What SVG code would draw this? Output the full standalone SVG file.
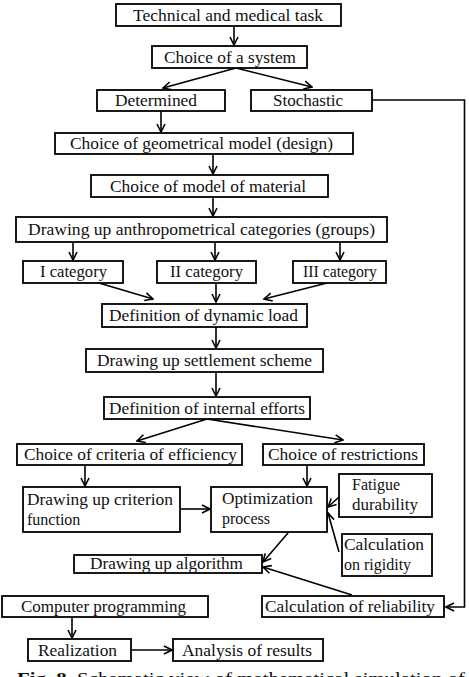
<svg xmlns="http://www.w3.org/2000/svg" width="469" height="677" viewBox="0 0 469 677">
<defs>
<marker id="ah" viewBox="0 0 10 10" refX="9" refY="5" markerWidth="10" markerHeight="10" markerUnits="userSpaceOnUse" orient="auto">
<path d="M1,1 L9,5 L1,9" fill="none" stroke="#000" stroke-width="1.6"/>
</marker>
<style>
rect{fill:#fff;stroke:#000;stroke-width:1.8}
text{font-family:"Liberation Serif","Times New Roman",serif;font-size:16px;fill:#111}
.c{text-anchor:middle}
#edges line,#edges polyline{fill:none;stroke:#000;stroke-width:1.6;marker-end:url(#ah)}
</style>
</defs>
<rect x="0" y="0" width="469" height="677" style="fill:#fff;stroke:none"/>
<g id="edges">
<line x1="234" y1="26" x2="234" y2="45"/>
<line x1="236" y1="68" x2="163" y2="88"/>
<line x1="236" y1="68" x2="312" y2="87"/>
<line x1="161" y1="111" x2="161" y2="132"/>
<line x1="213" y1="154" x2="213" y2="174"/>
<line x1="213" y1="197" x2="213" y2="216"/>
<line x1="73" y1="242" x2="73" y2="260"/>
<line x1="215" y1="242" x2="215" y2="260"/>
<line x1="340" y1="242" x2="340" y2="260"/>
<line x1="99" y1="283" x2="153" y2="299"/>
<line x1="216" y1="283" x2="216" y2="302"/>
<line x1="327" y1="283" x2="264" y2="299"/>
<line x1="216" y1="327" x2="216" y2="348"/>
<line x1="216" y1="372" x2="216" y2="396"/>
<line x1="207" y1="419" x2="137" y2="441"/>
<line x1="207" y1="419" x2="343" y2="440"/>
<line x1="85" y1="465" x2="85" y2="486"/>
<line x1="307" y1="465" x2="307" y2="486"/>
<line x1="180" y1="509" x2="210" y2="509"/>
<line x1="339" y1="497" x2="328" y2="507"/>
<line x1="339" y1="552" x2="328" y2="513"/>
<line x1="288" y1="533" x2="263" y2="562"/>
<line x1="352" y1="595" x2="263" y2="567"/>
<polyline points="372,100 464.5,100 464.5,607 446,607"/>
<line x1="72" y1="617" x2="72" y2="638"/>
<line x1="131" y1="650" x2="172" y2="650"/>
</g>
<g id="n1"><rect x="116" y="4" width="225" height="22"/><text class="c" x="228" y="21" textLength="190" lengthAdjust="spacingAndGlyphs">Technical and medical task</text></g>
<g id="n2"><rect x="152" y="46" width="155" height="22"/><text class="c" x="230" y="63" textLength="132" lengthAdjust="spacingAndGlyphs">Choice of a system</text></g>
<g id="n3"><rect x="97" y="90" width="128" height="21"/><text class="c" x="156" y="106" textLength="82" lengthAdjust="spacingAndGlyphs">Determined</text></g>
<g id="n4"><rect x="251" y="90" width="121" height="21"/><text class="c" x="308" y="106" textLength="70" lengthAdjust="spacingAndGlyphs">Stochastic</text></g>
<g id="n5"><rect x="55" y="133" width="298" height="21"/><text class="c" x="201.5" y="149" textLength="263" lengthAdjust="spacingAndGlyphs">Choice of geometrical model (design)</text></g>
<g id="n6"><rect x="91" y="175" width="237" height="22"/><text class="c" x="208" y="192" textLength="196" lengthAdjust="spacingAndGlyphs">Choice of model of material</text></g>
<g id="n7"><rect x="16" y="217" width="371" height="25"/><text class="c" x="201.5" y="235" textLength="347" lengthAdjust="spacingAndGlyphs">Drawing up anthropometrical categories (groups)</text></g>
<g id="n8"><rect x="23" y="261" width="100" height="22"/><text class="c" x="73.5" y="277" textLength="67" lengthAdjust="spacingAndGlyphs">I category</text></g>
<g id="n9"><rect x="157" y="261" width="99" height="22"/><text class="c" x="206.5" y="277" textLength="73" lengthAdjust="spacingAndGlyphs">II category</text></g>
<g id="n10"><rect x="293" y="261" width="93" height="22"/><text class="c" x="340" y="277" textLength="74" lengthAdjust="spacingAndGlyphs">III category</text></g>
<g id="n11"><rect x="102" y="304" width="205" height="23"/><text class="c" x="203.5" y="321" textLength="189" lengthAdjust="spacingAndGlyphs">Definition of dynamic load</text></g>
<g id="n12"><rect x="86" y="349" width="237" height="23"/><text class="c" x="204.5" y="366" textLength="215" lengthAdjust="spacingAndGlyphs">Drawing up settlement scheme</text></g>
<g id="n13"><rect x="104" y="397" width="206" height="22"/><text class="c" x="207" y="414" textLength="196" lengthAdjust="spacingAndGlyphs">Definition of internal efforts</text></g>
<g id="n14"><rect x="17" y="444" width="225" height="21"/><text class="c" x="130.5" y="460" textLength="213" lengthAdjust="spacingAndGlyphs">Choice of criteria of efficiency</text></g>
<g id="n15"><rect x="263" y="444" width="161" height="21"/><text class="c" x="343" y="460" textLength="150" lengthAdjust="spacingAndGlyphs">Choice of restrictions</text></g>
<g id="n16"><rect x="23" y="487" width="157" height="45"/><text x="27" y="505" textLength="146" lengthAdjust="spacingAndGlyphs">Drawing up criterion</text><text x="27" y="525">function</text></g>
<g id="n17"><rect x="211" y="487" width="116" height="45"/><text x="222" y="504" textLength="91" lengthAdjust="spacingAndGlyphs">Optimization</text><text x="222" y="524">process</text></g>
<g id="n18"><rect x="339" y="474" width="93" height="43"/><text x="352" y="490">Fatigue</text><text x="352" y="510" textLength="66" lengthAdjust="spacingAndGlyphs">durability</text></g>
<g id="n19"><rect x="342" y="534" width="90" height="42"/><text x="344" y="550" textLength="80" lengthAdjust="spacingAndGlyphs">Calculation</text><text x="344" y="570">on rigidity</text></g>
<g id="n20"><rect x="74" y="555" width="188" height="18"/><text class="c" x="166.5" y="569" textLength="153" lengthAdjust="spacingAndGlyphs">Drawing up algorithm</text></g>
<g id="n21"><rect x="2" y="596" width="206" height="21"/><text class="c" x="103.5" y="612" textLength="165" lengthAdjust="spacingAndGlyphs">Computer programming</text></g>
<g id="n22"><rect x="262" y="596" width="182" height="21"/><text class="c" x="350" y="612" textLength="170" lengthAdjust="spacingAndGlyphs">Calculation of reliability</text></g>
<g id="n23"><rect x="28" y="639" width="103" height="22"/><text class="c" x="77.5" y="656" textLength="79" lengthAdjust="spacingAndGlyphs">Realization</text></g>
<g id="n24"><rect x="173" y="639" width="150" height="22"/><text class="c" x="247" y="656" textLength="130" lengthAdjust="spacingAndGlyphs">Analysis of results</text></g>
<text x="17" y="684" style="font-size:17px" textLength="448" lengthAdjust="spacingAndGlyphs"><tspan font-weight="bold">Fig. 8.</tspan> Schematic view of mathematical simulation of</text>
</svg>
